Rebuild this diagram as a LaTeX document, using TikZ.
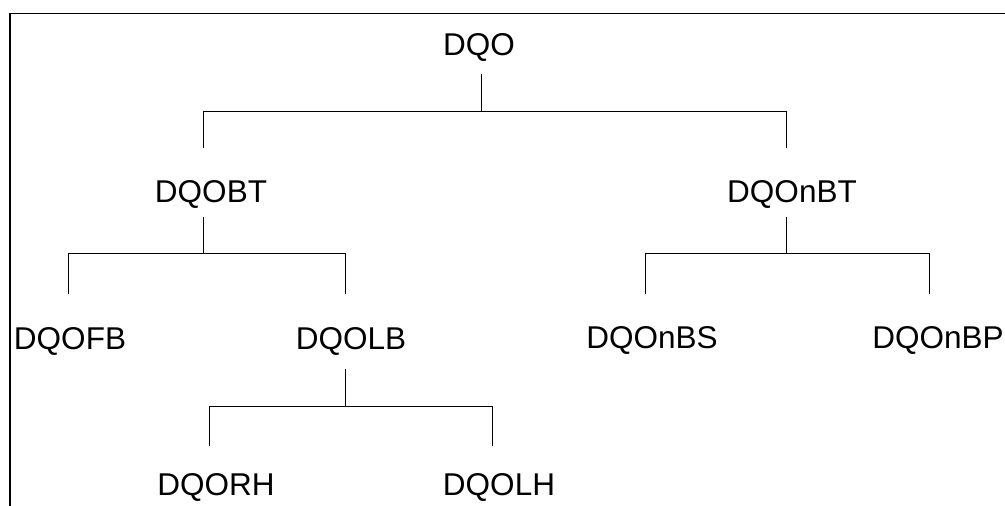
\documentclass[tikz,border=0pt]{standalone}
\usepackage{fontspec}
\setmainfont{Liberation Sans}
\begin{document}
\begin{tikzpicture}[x=1pt,y=-1pt,
  label/.style={inner sep=0pt,anchor=base,font=\fontsize{31.5}{36}\selectfont},
  link/.style={line width=1pt,black},
  frame/.style={line width=1.6pt,black}]
\useasboundingbox (0,0) rectangle (1005,506);
% frame along the top and left edges
\draw[frame] (9.8,506) -- (9.8,13.6) -- (1005,13.6);
% labels
\node[label] (dqo)   at (479,55)  {DQO};
\node[label] (dqobt) at (211,202) {DQOBT};
\node[label] (dqonbt) at (792,202) {DQOnBT};
\node[label] (dqofb) at (70,349)  {DQOFB};
\node[label] (dqolb) at (351,349) {DQOLB};
\node[label] (dqonbs) at (652,348) {DQOnBS};
\node[label] (dqonbp) at (938,348) {DQOnBP};
\node[label] (dqorh) at (216,495) {DQORH};
\node[label] (dqolh) at (499,495) {DQOLH};
% connector end points
\coordinate (a0) at (481,74);  \coordinate (a1) at (481,111);
\coordinate (aL) at (203,148); \coordinate (aR) at (786,148);
\coordinate (b0) at (203,217); \coordinate (b1) at (203,253);
\coordinate (bL) at (68,294);  \coordinate (bR) at (345,294);
\coordinate (c0) at (786,217); \coordinate (c1) at (786,253);
\coordinate (cL) at (645,294); \coordinate (cR) at (929,294);
\coordinate (d0) at (345,369); \coordinate (d1) at (345,406);
\coordinate (dL) at (209,446); \coordinate (dR) at (492,446);
% tree connectors
\draw[link] (a0) -- (a1) -| (aL);  \draw[link] (a1) -| (aR);
\draw[link] (b0) -- (b1) -| (bL);  \draw[link] (b1) -| (bR);
\draw[link] (c0) -- (c1) -| (cL);  \draw[link] (c1) -| (cR);
\draw[link] (d0) -- (d1) -| (dL);  \draw[link] (d1) -| (dR);
\end{tikzpicture}
\end{document}
